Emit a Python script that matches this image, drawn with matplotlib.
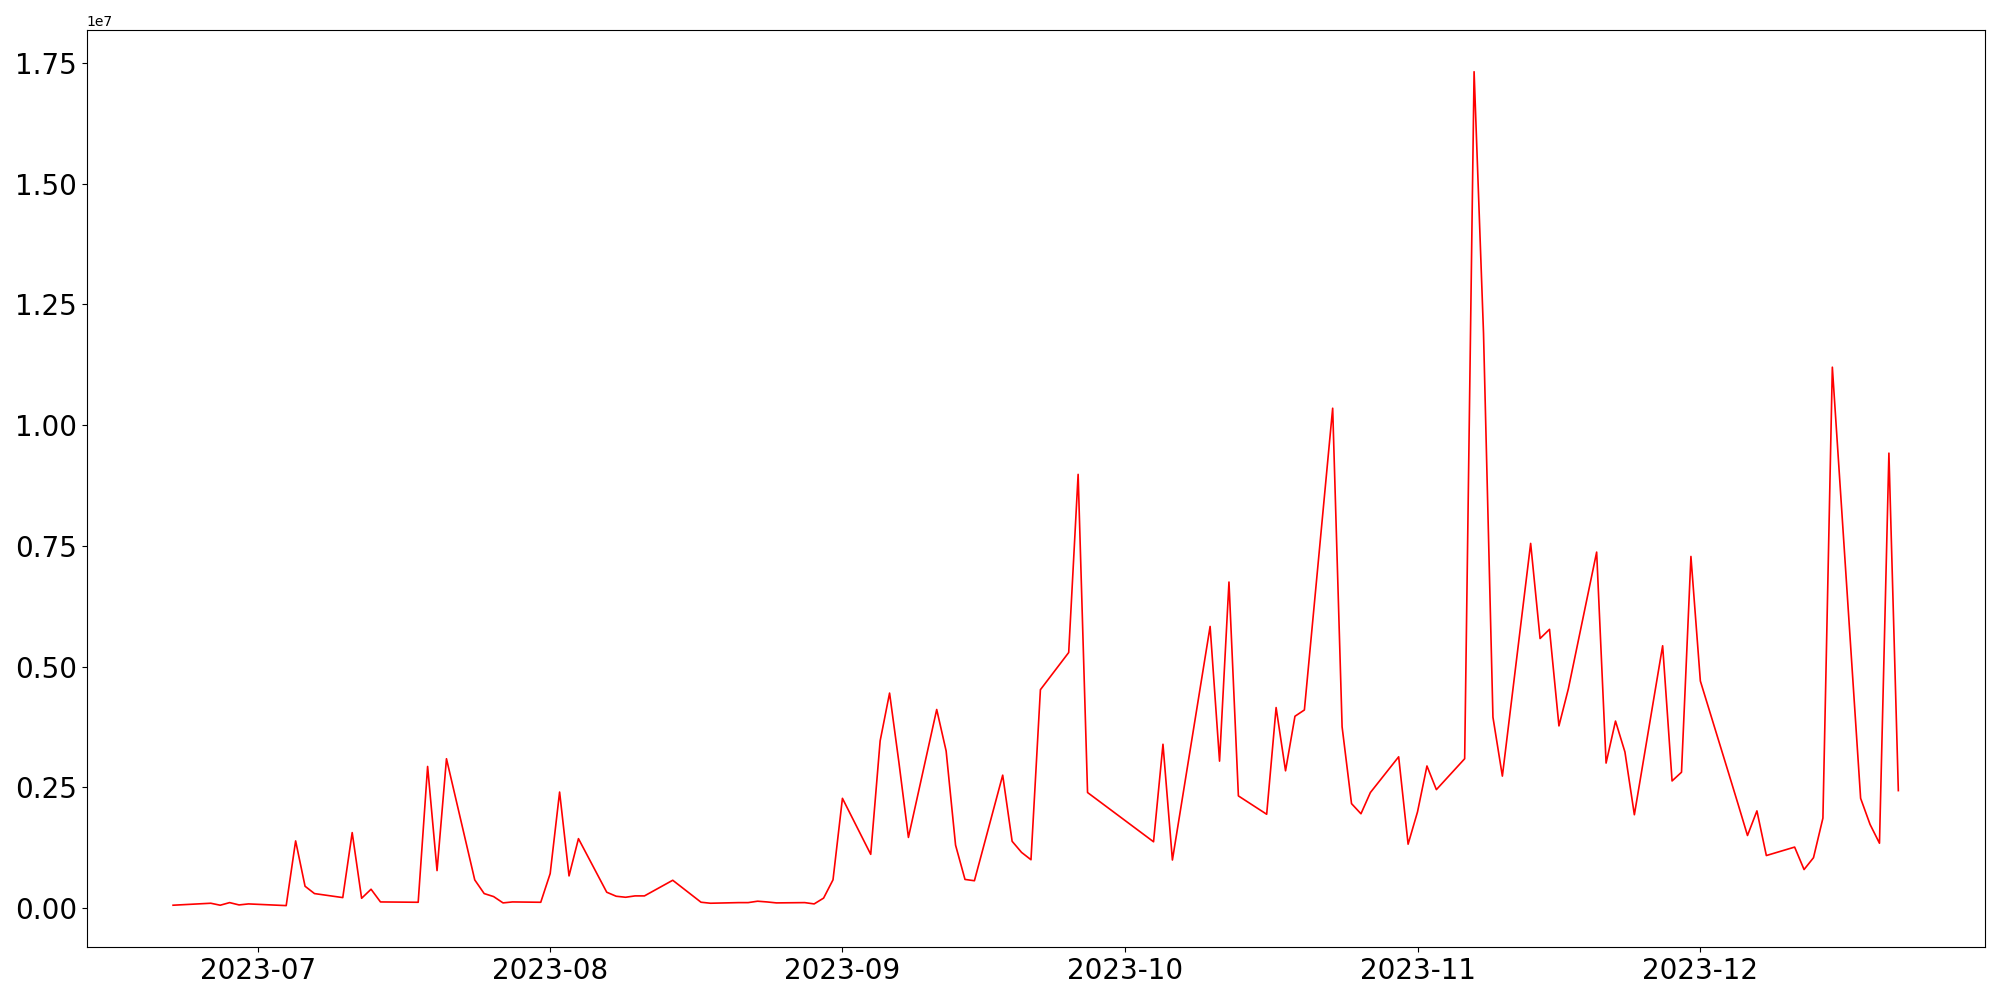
import numpy as np
import pandas as pd
import matplotlib
matplotlib.use("Agg")
import matplotlib.pyplot as plt

# daily values (trading days only)
dates = [
    "2023-06-22", "2023-06-26", "2023-06-27", "2023-06-28", "2023-06-29", "2023-06-30",
    "2023-07-04", "2023-07-05", "2023-07-06", "2023-07-07", "2023-07-10", "2023-07-11",
    "2023-07-12", "2023-07-13", "2023-07-14", "2023-07-18", "2023-07-19", "2023-07-20",
    "2023-07-21", "2023-07-24", "2023-07-25", "2023-07-26", "2023-07-27", "2023-07-28",
    "2023-07-31", "2023-08-01", "2023-08-02", "2023-08-03", "2023-08-04", "2023-08-07",
    "2023-08-08", "2023-08-09", "2023-08-10", "2023-08-11", "2023-08-14", "2023-08-17",
    "2023-08-18", "2023-08-21", "2023-08-22", "2023-08-23", "2023-08-24", "2023-08-25",
    "2023-08-28", "2023-08-29", "2023-08-30", "2023-08-31", "2023-09-01", "2023-09-04",
    "2023-09-05", "2023-09-06", "2023-09-07", "2023-09-08", "2023-09-11", "2023-09-12",
    "2023-09-13", "2023-09-14", "2023-09-15", "2023-09-18", "2023-09-19", "2023-09-20",
    "2023-09-21", "2023-09-22", "2023-09-25", "2023-09-26", "2023-09-27", "2023-10-04",
    "2023-10-05", "2023-10-06", "2023-10-10", "2023-10-11", "2023-10-12", "2023-10-13",
    "2023-10-16", "2023-10-17", "2023-10-18", "2023-10-19", "2023-10-20", "2023-10-23",
    "2023-10-24", "2023-10-25", "2023-10-26", "2023-10-27", "2023-10-30", "2023-10-31",
    "2023-11-01", "2023-11-02", "2023-11-03", "2023-11-06", "2023-11-07", "2023-11-08",
    "2023-11-09", "2023-11-10", "2023-11-13", "2023-11-14", "2023-11-15", "2023-11-16",
    "2023-11-17", "2023-11-20", "2023-11-21", "2023-11-22", "2023-11-23", "2023-11-24",
    "2023-11-27", "2023-11-28", "2023-11-29", "2023-11-30", "2023-12-01", "2023-12-04",
    "2023-12-05", "2023-12-06", "2023-12-07", "2023-12-08", "2023-12-11", "2023-12-12",
    "2023-12-13", "2023-12-14", "2023-12-15", "2023-12-18", "2023-12-19", "2023-12-20",
    "2023-12-21", "2023-12-22",
]

values = [
    56000, 97000, 56000, 110000, 62000, 83000,
    48000, 1388000, 449000, 297000, 214000, 1560000,
    200000, 387000, 124000, 117000, 2930000, 773000,
    3090000, 580000, 297000, 235000, 104000, 124000,
    117000, 711000, 2400000, 663000, 1435000, 325000,
    242000, 221000, 249000, 249000, 573000, 118000,
    97000, 110000, 110000, 139000, 124000, 104000,
    110000, 83000, 203000, 582000, 2270000, 1110000,
    3460000, 4450000, 3000000, 1460000, 4110000, 3250000,
    1300000, 590000, 563000, 2750000, 1380000, 1150000,
    998000, 4520000, 5290000, 8980000, 2390000, 1370000,
    3390000, 992000, 5830000, 3040000, 6750000, 2320000,
    1940000, 4150000, 2840000, 3970000, 4100000, 10350000,
    3750000, 2160000, 1950000, 2390000, 3130000, 1320000,
    1990000, 2940000, 2450000, 3090000, 17320000, 11900000,
    3950000, 2730000, 7550000, 5580000, 5770000, 3770000,
    4540000, 7370000, 3000000, 3870000, 3230000, 1930000,
    5430000, 2630000, 2810000, 7280000, 4700000, 2790000,
    2150000, 1500000, 2010000, 1085000, 1260000, 795000,
    1040000, 1860000, 11200000, 2270000, 1730000, 1340000,
    9420000, 2430000,
]

df = pd.DataFrame({"date": pd.to_datetime(dates), "value": values})

fig, ax = plt.subplots(figsize=(20, 10), dpi=100)
ax.plot(df["date"], df["value"], color="red", linewidth=1.2)

ax.tick_params(axis="both", labelsize=20)

fig.subplots_adjust(left=0.0434, right=0.9923, bottom=0.0527, top=0.97)
plt.savefig("out.png")
